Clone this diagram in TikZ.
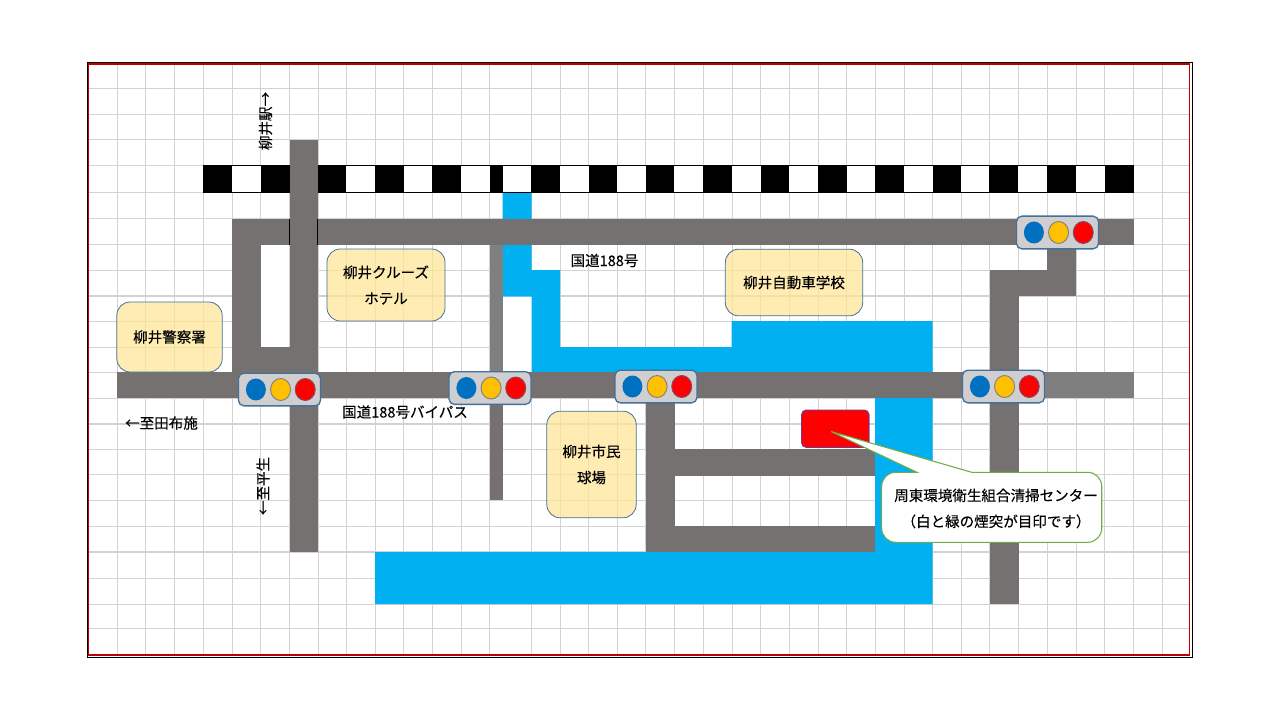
\documentclass[tikz,border=0pt]{standalone}
\usepackage{fontspec}
\usepackage{xcolor}
\setmainfont[FakeBold=0.25]{Noto Sans CJK JP}
\usetikzlibrary{shapes.geometric}
\definecolor{roadgray}{HTML}{767171}
\definecolor{roadlight}{HTML}{7F7F7F}
\definecolor{riverblue}{HTML}{00B0F0}
\definecolor{gridgray}{HTML}{D2D2D2}
\definecolor{boxline}{HTML}{41719C}
\definecolor{boxfill}{HTML}{FFE699}
\definecolor{signalfill}{HTML}{D0CECE}
\definecolor{lampblue}{HTML}{0070C0}
\definecolor{lampyellow}{HTML}{FFC000}
\definecolor{calloutgreen}{HTML}{70AD47}
\definecolor{framered}{HTML}{C00000}
\tikzset{road/.style = {fill=roadgray},
  roadpale/.style = {fill=roadlight},
  river/.style = {fill=riverblue},
  gridline/.style = {draw=gridgray,line width=0.75pt},
  labelbox/.style = {draw=boxline,line width=0.6pt,rounded corners=10pt,fill=boxfill,fill opacity=.75,text opacity=1,inner sep=0pt,align=center},
  signalbox/.style = {draw=boxline,line width=1pt,fill=signalfill,rounded corners=4pt,minimum width=61.5pt,minimum height=24.5pt,inner sep=0pt},
  lamp/.style = {ellipse,inner sep=0pt,minimum width=15pt,minimum height=16.5pt,line width=0.7pt}}

\begin{document}
\begin{tikzpicture}[x=0.75pt,y=-0.75pt,font=\fontsize{10.9pt}{19.5pt}\selectfont]
            \useasboundingbox (0,0) rectangle (1280,720);
            \fill[white] (0,0) rectangle (1280,720);

            % grid
            \foreach \gx in {117,145,174,203,232,260.5,289.5,318,346.5,375,403.5,432,461,489.5,531.5,560,588.5,617,645.5,674,703,732,760.5,789,818,846.5,875,904,932.5,961,989.5,1018,1047,1076,1104.5,1133,1162}
                \draw[gridline] (\gx,63) -- (\gx,656);
            \foreach \gy in {89,114.5,140,165.5,193,219,244.5,270,321,347,372,398,449,474.5,500,526,578,604,628.5}
                \draw[gridline] (88,\gy) -- (1190,\gy);
            \foreach \gy in {296,424,552}
                \draw[gridline,line width=1.1pt] (88,\gy) -- (1190,\gy);
            \fill[white] (261,245) rectangle (289,347);
            \fill[white] (502.5,296) rectangle (531.5,372);

            % river
            \fill[river] (502.5,193) -- (531.5,193) -- (531.5,270) -- (560,270) -- (560,347) -- (731.5,347) -- (731.5,321) -- (932.5,321) -- (932.5,604) -- (375,604) -- (375,552) -- (875,552) -- (875,372) -- (531.5,372) -- (531.5,296.5) -- (502.5,296.5) -- cycle;

            % railway
            \fill[black] (203,165) rectangle (1133.5,193.5);
            \foreach \wx/\wy in {232/260.5,289.5/318,346/375,403.5/432,461/489.5,502.5/531,560/588.5,617/645.5,674/703,732/760.5,789/818,846.5/875,904/932.5,961/989,1018/1047,1076/1104.5}
                \fill[white] (\wx,166.5) rectangle (\wy,192);

            % roads
            \fill[road] (232,219) rectangle (1133.5,245);
            \fill[road] (232,219) rectangle (261,372);
            \fill[road] (261,347) rectangle (289.5,372);
            \fill[road] (289.5,140) rectangle (318,552);
            \draw[black,line width=0.6pt] (289.5,219) -- (289.5,245);
            \draw[black,line width=0.6pt] (317.5,219) -- (317.5,245);
            \fill[road] (117,372) rectangle (1045,398);
            \fill[roadpale] (1045,372) rectangle (1133.5,398);
            \fill[roadpale] (489.5,245) rectangle (502.5,372);
            \fill[road] (489.5,398) rectangle (502.5,500);
            \fill[road] (645.5,398) rectangle (675,552);
            \fill[road] (675,449) rectangle (875,475.5);
            \fill[road] (675,526) rectangle (875,552);
            \fill[road] (989.5,270) rectangle (1019,604);
            \fill[road] (989.5,270) rectangle (1076,296);
            \fill[road] (1047,245) rectangle (1076,296);

            % traffic signals
            \foreach \sn/\sx/\sy in {sigwest/279.5/389.5,sigbypass/490/388,sigball/656/386.5,sigeast/1003.5/386.5,signorth/1057.5/232.5}{
                \node[signalbox] (\sn) at (\sx,\sy) {};
                \node[lamp,fill=lampblue] (\sn b) at ([xshift=-17.7pt]\sn) {};
                \node[lamp,draw=gray,fill=lampyellow] (\sn y) at ([xshift=0.8pt]\sn) {};
                \node[lamp,draw=boxline!70!red,fill=red] (\sn r) at ([xshift=19.3pt]\sn) {};
            }

            % places
            \node[labelbox,minimum width=79pt,minimum height=52.5pt] (police) at (169.5,337) {柳井警察署};
            \node[labelbox,minimum width=88.5pt,minimum height=54pt] (hotel) at (386,285) {柳井クルーズ\\ホテル};
            \node[labelbox,minimum width=103pt,minimum height=50pt] (school) at (794,282.5) {柳井自動車学校};
            \node[labelbox,minimum width=67pt,minimum height=80pt] (stadium) at (591.5,464.5) {柳井市民\\球場};

            \node (bypasslabel) at (405,412) {国道188号バイパス};
            \node (routelabel) at (604.5,260.5) {国道188号};
            \node (tabuselabel) at (161.5,423) {←至田布施};
            \node[rotate=90] (stationlabel) at (265.5,121) {柳井駅→};
            \node[rotate=90] (hiraolabel) at (263,486) {←至平生};

            % target and its callout
            \node[draw=violet!60!gray,line width=0.8pt,fill=red,rounded corners=3.5pt,minimum width=50.5pt,minimum height=28pt,inner sep=0pt] (center) at (835.3,428.7) {};
            \coordinate (tip) at (831,431.5);
            \draw[draw=calloutgreen,line width=0.8pt,fill=white] (881.7,486.3) arc[start angle=180,end angle=90,radius=10.5pt] -- (917,472.3) -- (tip) -- (971.7,472.3) -- (1087.7,472.3) arc[start angle=90,end angle=0,radius=10.5pt] -- (1101.7,528.3) arc[start angle=0,end angle=-90,radius=10.5pt] -- (895.7,542.3) arc[start angle=-90,end angle=-180,radius=10.5pt] -- cycle;
            \node[inner sep=0pt,align=center] (centerlabel) at (996,508.5) {周東環境衛生組合清掃センター\\（白と緑の煙突が目印です）};

            % frame
            \draw[black,line width=0.6pt] (87.5,62.5) rectangle (1192,657);
            \draw[framered,line width=1.4pt] (88.5,64) rectangle (1189.5,655);
        \end{tikzpicture}
\end{document}
